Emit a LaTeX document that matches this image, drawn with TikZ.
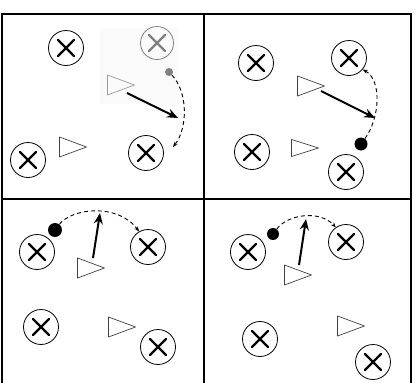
\documentclass[tikz,border=0pt]{standalone}
\usetikzlibrary{arrows.meta}
\begin{document}
\begin{tikzpicture}[x=1pt,y=-1pt,
  player/.style={circle,draw,line width=0.8pt,minimum size=35pt,inner sep=0pt,
    path picture={\draw[line width=2.2pt,line cap=round,#1]
      ([shift={(-8pt,-8pt)}]path picture bounding box.center) -- ([shift={(8pt,8pt)}]path picture bounding box.center)
      ([shift={(-8pt,8pt)}]path picture bounding box.center) -- ([shift={(8pt,-8pt)}]path picture bounding box.center);}},
  player/.default=black,
  cone/.style={rectangle,minimum width=29pt,minimum height=22pt,inner sep=0pt,
    path picture={\draw[line width=0.7pt,line join=round,#1]
      ([shift={(1pt,-1pt)}]path picture bounding box.north west) -- ([shift={(-1pt,0pt)}]path picture bounding box.east)
      -- ([shift={(1pt,1pt)}]path picture bounding box.south west) -- cycle;}},
  cone/.default=black!75,
  ball/.style={circle,fill=black,minimum size=13pt,inner sep=0pt},
  run/.style={line width=2pt,-{Stealth[length=11pt,width=9pt]}},
  pass/.style={line width=0.9pt,dash pattern=on 4pt off 3pt,-{Stealth[length=5pt,width=4pt]}},
  frame/.style={line width=1.3pt}]
\useasboundingbox (0,0) rectangle (416,383);
% faded patch
\fill[gray!4] (100,28) rectangle (178,104);
% frame
\draw[frame] (2,383) -- (2,14) -- (411,14) -- (411,383);
\draw[frame] (204,14) -- (204,383);
\draw[frame] (2,199) -- (411,199);
% panel 1
\node[player] (A1) at (66,48) {};
\node[player=gray,draw=gray,minimum size=33pt] (A2) at (157,43) {};
\node[player] (A3) at (146,153) {};
\node[player] (A4) at (28,160) {};
\node[circle,fill=gray,minimum size=8pt,inner sep=0pt] (dot1) at (169,72) {};
\node[cone=gray!80] (T1) at (121,85) {};
\node[cone] (T2) at (73,147) {};
\coordinate (s1) at (127,93);
\coordinate (e1) at (178,118);
\coordinate (f1) at (173,147);
\draw[run] (s1) -- (e1);
\draw[pass] (dot1) .. controls (188,92) and (188,128) .. (f1);
% panel 2
\node[player] (B1) at (256,63) {};
\node[player] (B2) at (349,58) {};
\node[player] (B3) at (252,152) {};
\node[player] (B4) at (346,172) {};
\node[ball] (dot2) at (361,144) {};
\node[cone] (T3) at (311,86) {};
\node[cone,minimum height=19pt] (T4) at (305,148) {};
\coordinate (s2) at (321,91);
\coordinate (e2) at (375,118);
\draw[run] (s2) -- (e2);
\draw[pass] (dot2) .. controls (380,118) and (382,80) .. (B2.-40);
% panel 3
\node[player] (C1) at (37,252) {};
\node[player] (C2) at (148,247) {};
\node[player] (C3) at (41,327) {};
\node[player] (C4) at (158,347) {};
\node[ball,minimum size=14pt] (dot3) at (55,230) {};
\node[cone] (T5) at (91,268) {};
\node[cone] (T6) at (122,327) {};
\coordinate (s3) at (93,258);
\coordinate (e3) at (100,213);
\draw[run] (s3) -- (e3);
\draw[pass] (dot3) .. controls (72,208) and (118,203) .. (C2.120);
% panel 4
\node[player] (D1) at (248,252) {};
\node[player] (D2) at (346,242) {};
\node[player] (D3) at (260,339) {};
\node[player] (D4) at (373,362) {};
\node[ball,minimum size=12pt] (dot4) at (273,234) {};
\node[cone] (T7) at (298,275) {};
\node[cone] (T8) at (351,326) {};
\coordinate (s4) at (299,265);
\coordinate (e4) at (306,219);
\draw[run] (s4) -- (e4);
\draw[pass] (dot4) .. controls (288,214) and (320,210) .. (D2.125);
\end{tikzpicture}
\end{document}
